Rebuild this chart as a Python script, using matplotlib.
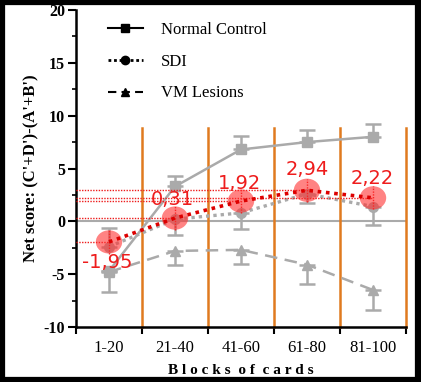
import matplotlib
matplotlib.use("Agg")
import matplotlib.pyplot as plt
import numpy as np
from matplotlib.lines import Line2D
from matplotlib.patches import Ellipse, Rectangle

categories = ["1-20", "21-40", "41-60", "61-80", "81-100"]
normal = [-4.7, 3.3, 6.8, 7.5, 8.0]
normal_err_up = [0.0, 1.0, 1.3, 1.1, 1.2]
sdi = [-2.4, 0.2, 0.8, 2.6, 1.4]
sdi_err_down = [0.0, 1.5, 1.5, 0.9, 1.7]
sdi_err_up = [1.8, 0.0, 0.0, 0.0, 0.0]
vm = [-4.8, -2.8, -2.7, -4.1, -6.5]
vm_err_down = [1.9, 1.3, 1.3, 1.8, 1.9]
sdi_marked = [-1.95, 0.31, 1.92, 2.94, 2.22]
sdi_marked_labels = ["-1,95", "0,31", "1,92", "2,94", "2,22"]
y_ticks = [-10, -5, 0, 5, 10, 15, 20]

W, H = 421, 382
fig = plt.figure(figsize=(W / 100, H / 100), dpi=100)
ax = fig.add_axes([76 / W, 1 - 327 / H, 330 / W, 317 / H])

x = np.arange(len(categories))
grey = "#aaaaaa"
serif = ["Liberation Serif", "DejaVu Serif"]

ax.set_xlim(-0.5, len(categories) - 0.5)
ax.set_ylim(-10, 20)

# zero line
ax.axhline(0, color=grey, lw=1.5, zorder=1)

# orange block separators
for b in np.arange(len(categories)) + 0.5:
    ax.plot([b, b], [-10, 8.8], color="#e07a1f", lw=1.8, zorder=2, clip_on=False)

# grey series
ax.errorbar(x, normal, yerr=[np.zeros(5), normal_err_up], color=grey, lw=1.8,
            marker="s", ms=7, capsize=6, elinewidth=1.8, capthick=1.8, zorder=3)
ax.errorbar(x, sdi, yerr=[sdi_err_down, sdi_err_up], color=grey, lw=2.4, ls=(0, (1, 1.2)),
            marker="o", ms=7, capsize=6, elinewidth=1.8, capthick=1.8, zorder=3)
ax.errorbar(x, vm, yerr=[vm_err_down, np.zeros(5)], color=grey, lw=1.8, ls=(0, (5, 3)),
            marker="^", ms=7, capsize=6, elinewidth=1.8, capthick=1.8, zorder=3)

# red overlay
red = "#ee1c1c"
for xi, yi in zip(x, sdi_marked):
    ax.plot([-0.5, xi], [yi, yi], color=red, lw=1.0, ls=(0, (1, 1)), zorder=4)
    ax.plot([xi, xi], [yi - 1.1, yi + 1.1], color=red, lw=1.0, ls=(0, (1, 1)), zorder=4)
    ax.add_patch(Ellipse((xi, yi), 0.4, 2.2, color="#ff3030", alpha=0.6, lw=0, zorder=5))
ax.plot(x, sdi_marked, color="#dd0000", lw=2.6, ls=(0, (1, 1.3)), zorder=6)

label_offsets = [(-0.03, -1.9), (-0.04, 1.8), (-0.02, 1.7), (0.0, 2.0), (-0.01, 1.8)]
for xi, yi, lab, (dx, dy) in zip(x, sdi_marked, sdi_marked_labels, label_offsets):
    ax.text(xi + dx, yi + dy, lab, color=red, fontsize=14, ha="center", va="center",
            family=["DejaVu Sans"], zorder=7)

# axes styling
for s in ["top", "right"]:
    ax.spines[s].set_visible(False)
ax.spines["left"].set_linewidth(1.8)
ax.spines["bottom"].set_linewidth(1.8)
ax.set_xticks(np.arange(len(categories) + 1) - 0.5)
ax.set_xticklabels([])
ax.set_xticks(x, minor=True)
ax.set_xticklabels(categories, minor=True, family=serif, fontsize=12)
ax.tick_params(axis="x", which="minor", length=0, pad=9)
ax.tick_params(axis="x", which="major", length=5, width=1.5)
ax.set_yticks(y_ticks)
ax.set_yticklabels([str(v) for v in y_ticks], family=serif, fontsize=11.5, fontweight="bold")
ax.set_yticks(np.arange(-10, 20.1, 2.5), minor=True)
ax.tick_params(axis="y", which="major", length=6, width=1.5, pad=2)
ax.tick_params(axis="y", which="minor", length=3, width=1.2)

ax.set_ylabel("Net score: (C'+D')-(A'+B')", family=serif, fontsize=12, fontweight="bold", labelpad=3)
ax.set_xlabel("B l o c k s   o f   c a r d s".replace("   ", "  "), family=serif, fontsize=11,
              fontweight="bold", labelpad=6)

handles = [
    Line2D([], [], color="black", lw=1.5, marker="s", ms=6),
    Line2D([], [], color="black", lw=2, ls=(0, (1, 1)), marker="o", ms=6),
    Line2D([], [], color="black", lw=1.5, ls=(0, (4, 2.5)), marker="^", ms=6),
]
leg = ax.legend(handles, ["Normal Control", "SDI", "VM Lesions"], loc="upper left",
                bbox_to_anchor=(0.05, 1.01), frameon=False, prop={"family": serif, "size": 12},
                handlelength=2.1, labelspacing=0.95, handletextpad=1.1)

# outer black frame
fig.patches.append(Rectangle((0.004, 0.005), 0.989, 0.991, transform=fig.transFigure,
                             fill=False, ec="black", lw=4.5))

fig.savefig("out.png", dpi=100)
